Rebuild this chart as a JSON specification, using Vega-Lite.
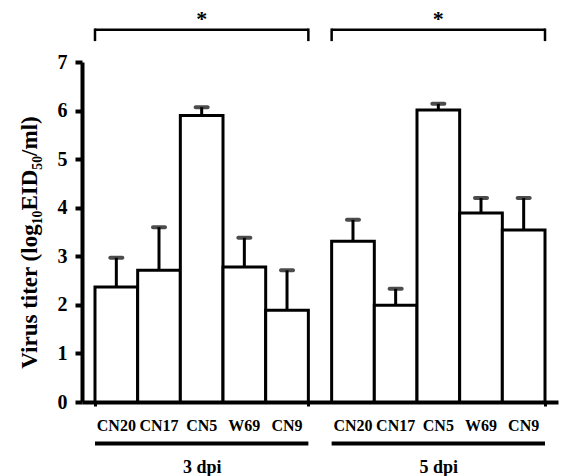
{
  "$schema": "https://vega.github.io/schema/vega-lite/v6.json",
  "width": 476,
  "height": 340,
  "autosize": {"type": "none"},
  "padding": {"left": 82, "top": 62, "right": 3, "bottom": 74},
  "background": "white",
  "config": {
    "view": {"stroke": null},
    "font": "Liberation Serif",
    "axis": {"grid": false, "domainColor": "black", "tickColor": "black", "labelColor": "black", "titleColor": "black"}
  },
  "datasets": {
    "titers": [
      {"dpi": "3 dpi", "strain": "CN20", "titer": 2.37, "upper": 2.97},
      {"dpi": "3 dpi", "strain": "CN17", "titer": 2.71, "upper": 3.6},
      {"dpi": "3 dpi", "strain": "CN5", "titer": 5.9, "upper": 6.07},
      {"dpi": "3 dpi", "strain": "W69", "titer": 2.78, "upper": 3.38},
      {"dpi": "3 dpi", "strain": "CN9", "titer": 1.89, "upper": 2.71},
      {"dpi": "5 dpi", "strain": "CN20", "titer": 3.31, "upper": 3.75},
      {"dpi": "5 dpi", "strain": "CN17", "titer": 1.99, "upper": 2.33},
      {"dpi": "5 dpi", "strain": "CN5", "titer": 6.01, "upper": 6.14},
      {"dpi": "5 dpi", "strain": "W69", "titer": 3.89, "upper": 4.2},
      {"dpi": "5 dpi", "strain": "CN9", "titer": 3.54, "upper": 4.2}
    ],
    "groups": [
      {"dpi": "3 dpi", "sig": "*"},
      {"dpi": "5 dpi", "sig": "*"}
    ]
  },
  "encoding": {
    "x": {
      "field": "dpi",
      "type": "nominal",
      "scale": {"paddingInner": 0.0984, "paddingOuter": 0.0549},
      "axis": {
        "title": null,
        "labelAngle": 0,
        "labelFont": "Liberation Serif",
        "labelFontWeight": "bold",
        "labelFontSize": 18,
        "labelPadding": 52,
        "labelBaseline": "top",
        "tickBand": "extent",
        "tickSize": 4,
        "tickWidth": 3,
        "domainWidth": 4
      }
    }
  },
  "layer": [
    {
      "data": {"name": "titers"},
      "mark": {"type": "bar", "fill": "white", "stroke": "black", "strokeWidth": 3},
      "encoding": {
        "xOffset": {"field": "strain", "type": "nominal", "sort": ["CN20", "CN17", "CN5", "W69", "CN9"], "scale": {"paddingInner": 0, "paddingOuter": 0}},
        "y": {
          "field": "titer",
          "type": "quantitative",
          "scale": {"domain": [0, 7], "nice": false},
          "axis": {
            "title": "Virus titer (log₁₀EID₅₀/ml)",
            "titleFont": "Liberation Serif",
            "titleFontWeight": "bold",
            "titleFontSize": 23,
            "titleAngle": -90,
            "titleAlign": "center",
            "titleBaseline": "middle",
            "titleX": -53,
            "titleY": 180,
            "values": [0, 1, 2, 3, 4, 5, 6, 7],
            "format": "d",
            "labelFont": "Liberation Serif",
            "labelFontWeight": "bold",
            "labelFontSize": 20,
            "labelPadding": 8,
            "tickSize": 7,
            "tickWidth": 4,
            "domainWidth": 4
          }
        }
      }
    },
    {
      "data": {"name": "titers"},
      "mark": {"type": "rule", "color": "black", "strokeWidth": 3},
      "encoding": {
        "xOffset": {"field": "strain", "type": "nominal", "sort": ["CN20", "CN17", "CN5", "W69", "CN9"]},
        "y": {"field": "titer", "type": "quantitative"},
        "y2": {"field": "upper"}
      }
    },
    {
      "data": {"name": "titers"},
      "mark": {"type": "tick", "orient": "horizontal", "color": "black", "size": 16, "thickness": 4, "cornerRadius": 2},
      "encoding": {
        "xOffset": {"field": "strain", "type": "nominal", "sort": ["CN20", "CN17", "CN5", "W69", "CN9"]},
        "y": {"field": "upper", "type": "quantitative"}
      }
    },
    {
      "data": {"name": "titers"},
      "mark": {"type": "text", "font": "Liberation Serif", "fontWeight": "bold", "fontSize": 16, "baseline": "alphabetic", "align": "center", "color": "black"},
      "encoding": {
        "xOffset": {"field": "strain", "type": "nominal", "sort": ["CN20", "CN17", "CN5", "W69", "CN9"]},
        "y": {"datum": -0.6, "type": "quantitative"},
        "text": {"field": "strain"}
      }
    },
    {
      "data": {"name": "groups"},
      "mark": {"type": "bar", "color": "black", "clip": false},
      "encoding": {
        "y": {"datum": -0.813, "type": "quantitative"},
        "y2": {"datum": -0.896}
      }
    },
    {
      "data": {"name": "groups"},
      "mark": {"type": "bar", "color": "black"},
      "encoding": {
        "y": {"datum": 7.69, "type": "quantitative"},
        "y2": {"datum": 7.64}
      }
    },
    {
      "data": {"name": "groups"},
      "mark": {"type": "rule", "color": "black", "strokeWidth": 2.5},
      "encoding": {
        "x": {"field": "dpi", "type": "nominal", "bandPosition": 0},
        "y": {"datum": 7.69, "type": "quantitative"},
        "y2": {"datum": 7.43}
      }
    },
    {
      "data": {"name": "groups"},
      "mark": {"type": "rule", "color": "black", "strokeWidth": 2.5},
      "encoding": {
        "x": {"field": "dpi", "type": "nominal", "bandPosition": 1},
        "y": {"datum": 7.69, "type": "quantitative"},
        "y2": {"datum": 7.43}
      }
    },
    {
      "data": {"name": "groups"},
      "mark": {"type": "text", "font": "Liberation Serif", "fontWeight": "bold", "fontSize": 22, "baseline": "alphabetic", "align": "center", "color": "black"},
      "encoding": {
        "y": {"datum": 7.74, "type": "quantitative"},
        "text": {"field": "sig"}
      }
    }
  ]
}
